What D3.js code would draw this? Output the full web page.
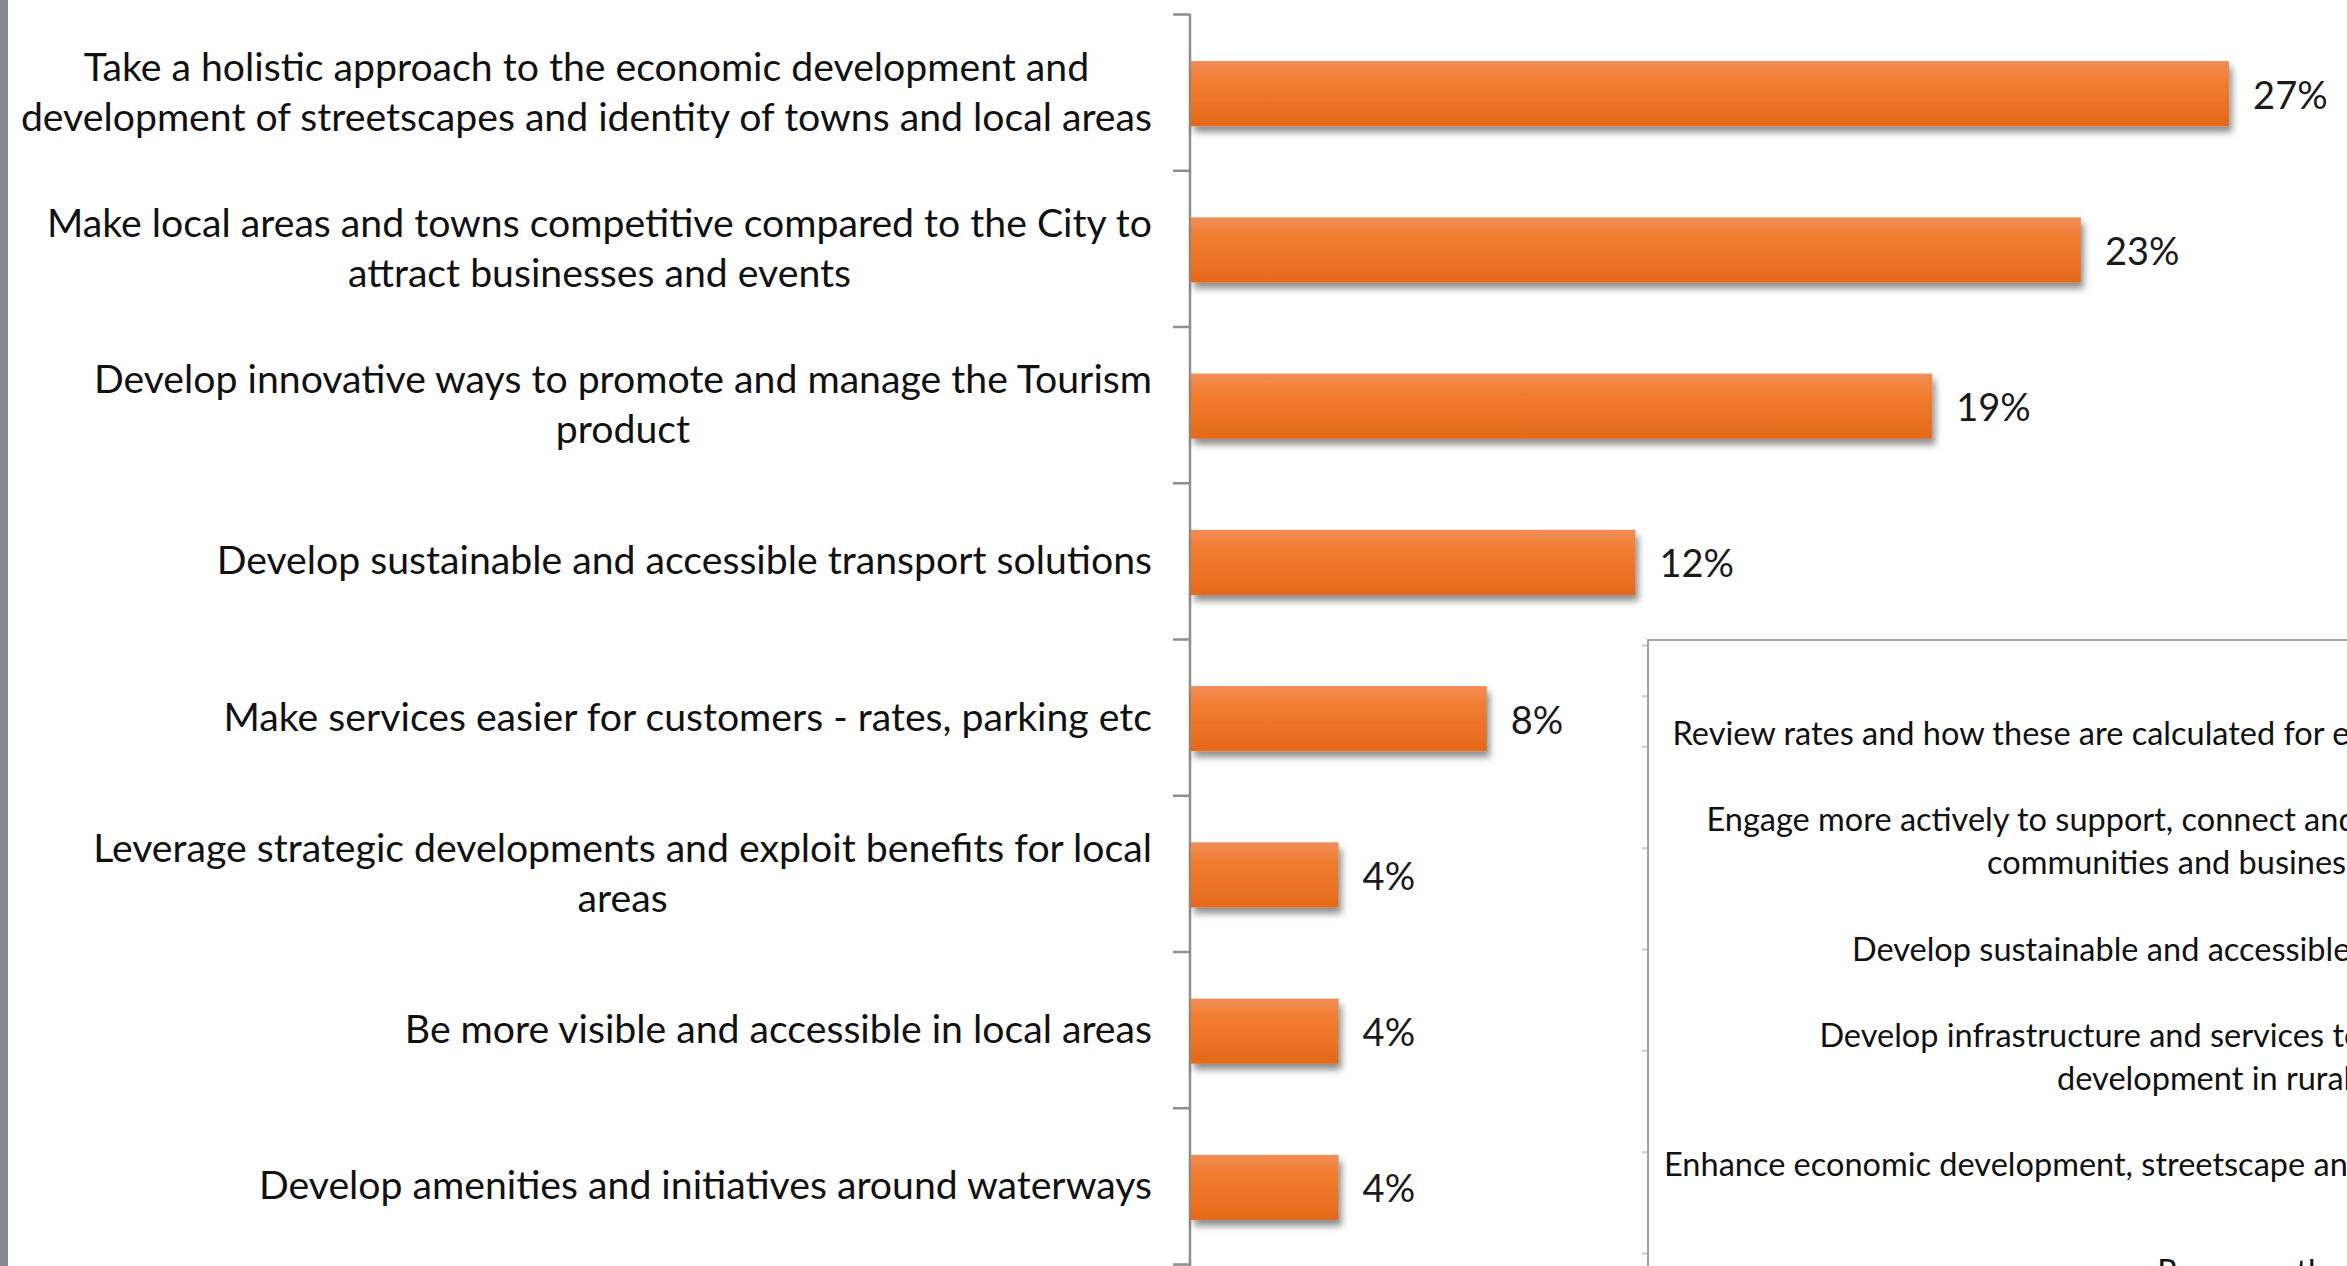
<!DOCTYPE html>
<html><head><meta charset="utf-8">
<script src="https://cdn.jsdelivr.net/npm/d3@7"></script>
<style>html,body{margin:0;padding:0;background:#fff;overflow:hidden}</style>
</head><body>
<svg id="chart" width="2347" height="1266"></svg>
<script>
// ---- data ----
const categories = [
  "Take a holistic approach to the economic development and|development of streetscapes and identity of towns and local areas",
  "Make local areas and  towns competitive compared to the City to|attract businesses and events",
  "Develop innovative ways to promote and manage the Tourism|product",
  "Develop sustainable and accessible transport solutions",
  "Make services easier for customers - rates, parking etc",
  "Leverage strategic developments and exploit benefits for local|areas",
  "Be more visible and accessible in local areas",
  "Develop amenities and initiatives around waterways"
];
const values = [0.2692, 0.2308, 0.1923, 0.1154, 0.0769, 0.0385, 0.0385, 0.0385];

// second (overlapping, cropped) chart's category labels
const secondCategories = [
  "Review rates and how these are calculated for every business property",
  "Engage more actively to support, connect and advocate for the local|communities and businesses",
  "Develop sustainable and accessible transport connections",
  "Develop infrastructure and services to support business and|development in rural areas",
  "Enhance economic development, streetscape and identity of our towns",
  "Resource the business support team"
];
const secondTickIndex = [0, 1, 2, 4, 6, 8, 10, 12];

// ---- drawing ----
(function () {
const FONT = "Lato, 'Open Sans', sans-serif";
const svg = d3.select("#chart");
const W = 2347, H = 1266;

const defs = svg.append("defs");
const grad = defs.append("linearGradient").attr("id", "barGrad")
  .attr("x1", 0).attr("y1", 0).attr("x2", 0).attr("y2", 1);
grad.append("stop").attr("offset", "0%").attr("stop-color", "#f08d58");
grad.append("stop").attr("offset", "30%").attr("stop-color", "#f27d2f");
grad.append("stop").attr("offset", "100%").attr("stop-color", "#e4691b");

const f = defs.append("filter").attr("id", "shadow")
  .attr("x", "-5%").attr("y", "-20%").attr("width", "115%").attr("height", "160%");
f.append("feGaussianBlur").attr("in", "SourceAlpha").attr("stdDeviation", 3.5).attr("result", "b");
f.append("feOffset").attr("in", "b").attr("dx", 3).attr("dy", 6).attr("result", "o");
f.append("feComponentTransfer").attr("in", "o").attr("result", "s")
  .append("feFuncA").attr("type", "linear").attr("slope", 0.45);
const mg = f.append("feMerge");
mg.append("feMergeNode").attr("in", "s");
mg.append("feMergeNode").attr("in", "SourceGraphic");

svg.append("rect").attr("width", W).attr("height", H).attr("fill", "#fff");
svg.append("rect").attr("x", 0).attr("y", 0).attr("width", 8).attr("height", H).attr("fill", "#85878a");

const yTop = 14, yBottom = 1264;
const y = d3.scaleBand().domain(categories).range([yTop, yBottom]).paddingInner(0).paddingOuter(0);
const x = d3.scaleLinear().domain([0, 0.3]).range([1190, 2348]);
const idx = d3.scaleLinear().domain([0, categories.length]).range([yTop, yBottom]);

const axisG = svg.append("g").attr("transform", `translate(${x(0)},0)`)
  .call(d3.axisLeft(idx).tickValues(d3.range(categories.length + 1)).tickFormat("")
    .tickSizeInner(17).tickSizeOuter(0));
axisG.select(".domain").attr("stroke", "#8e8e8e").attr("stroke-width", 2.5).attr("d", `M0,${yTop}V${H + 5}`);
axisG.selectAll(".tick line").attr("stroke", "#8e8e8e").attr("stroke-width", 2.5);

const barH = y.bandwidth() / 2.4;
const cy = d => y(d) + y.bandwidth() / 2 + 1.5;

svg.append("g").selectAll("rect").data(categories).join("rect")
  .attr("x", x(0) + 1)
  .attr("y", d => cy(d) - barH / 2)
  .attr("width", (d, i) => x(values[i]) - x(0) - 1)
  .attr("height", barH)
  .attr("fill", "url(#barGrad)")
  .attr("filter", "url(#shadow)");

svg.append("g").selectAll("text").data(categories).join("text")
  .attr("x", (d, i) => x(values[i]) + 24)
  .attr("y", d => cy(d))
  .attr("dominant-baseline", "central")
  .attr("font-family", FONT).attr("font-size", 38).attr("fill", "#1a1a1a")
  .text((d, i) => d3.format(".0%")(values[i]));

const labelRight = 1152, lineH = 50;
categories.forEach(c => {
  const lines = c.split("|");
  const g = svg.append("g");
  const ts = lines.map((t, i) => g.append("text")
    .attr("font-family", FONT).attr("font-size", 39.2).attr("fill", "#111")
    .attr("text-anchor", "middle").attr("dominant-baseline", "central")
    .attr("y", y(c) + y.bandwidth() / 2 - 2 + (i - (lines.length - 1) / 2) * lineH)
    .text(t));
  const maxW = d3.max(ts, t => t.node().getComputedTextLength());
  ts.forEach(t => t.attr("x", labelRight - maxW / 2));
});

// ---- second, overlapping chart (cropped by the picture edge) ----
const boxX = 1648, boxY = 640;
svg.append("rect").attr("x", boxX).attr("y", boxY).attr("width", 900).attr("height", 800)
  .attr("fill", "#fff").attr("stroke", "#a3a3a3").attr("stroke-width", 2);
const idx2 = d3.scaleLinear().domain([0, 12]).range([645, 1253]);
svg.append("g").attr("transform", `translate(${boxX - 1},0)`)
  .call(d3.axisLeft(idx2).tickValues(secondTickIndex).tickFormat("").tickSizeInner(5).tickSizeOuter(0))
  .call(g => g.select(".domain").remove())
  .call(g => g.selectAll(".tick line").attr("stroke", "#c5cad3").attr("stroke-width", 2));

const y2 = d3.scaleBand().domain(secondCategories).range([679, 679 + 107.6 * secondCategories.length]);
const right2 = 2672, lineH2 = 43;
secondCategories.forEach(c => {
  const lines = c.split("|");
  const g = svg.append("g");
  const ts = lines.map((t, i) => g.append("text")
    .attr("font-family", FONT).attr("font-size", 32.5).attr("fill", "#111")
    .attr("text-anchor", "middle").attr("dominant-baseline", "central")
    .attr("y", y2(c) + y2.bandwidth() / 2 + (i - (lines.length - 1) / 2) * lineH2)
    .text(t));
  const maxW = d3.max(ts, t => t.node().getComputedTextLength());
  ts.forEach(t => t.attr("x", right2 - maxW / 2));
});
})();
</script>
</body></html>
